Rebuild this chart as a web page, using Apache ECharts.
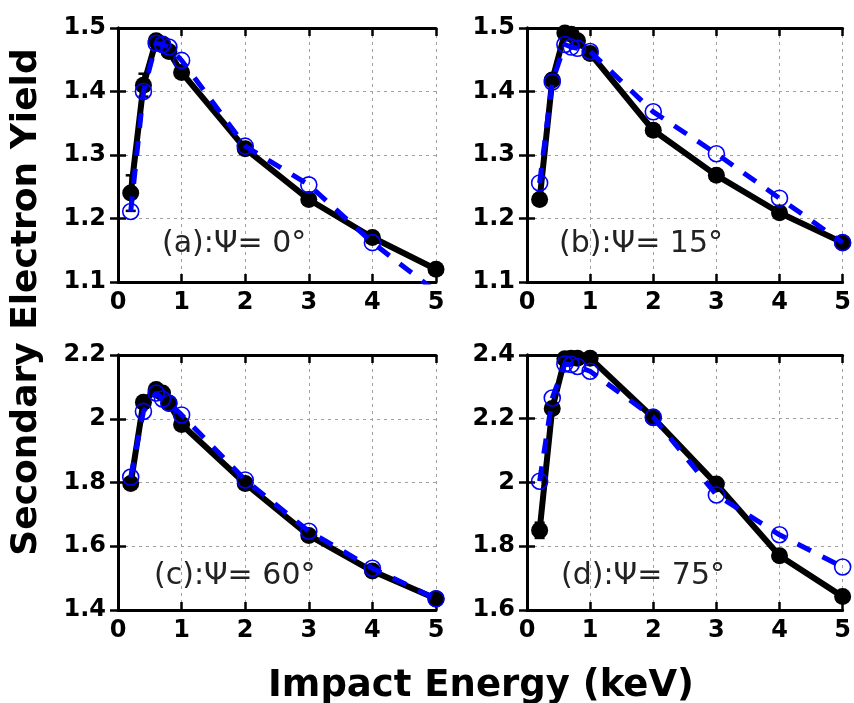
<!DOCTYPE html>
<html>
<head>
<meta charset="utf-8">
<script src="https://cdn.jsdelivr.net/npm/echarts@6/dist/echarts.min.js"></script>
<style>html,body{margin:0;padding:0;background:#fff;}#c{width:854px;height:703px;}</style>
</head>
<body>
<div id="c"></div>
<script>
// Impact energy (keV)
const energy = [0.2, 0.4, 0.6, 0.7, 0.8, 1, 2, 3, 4, 5];
const xTicks = [0, 1, 2, 3, 4, 5];

// Panel labels
const panelLabels = ['(a):\u03A8= 0\u00B0', '(b):\u03A8= 15\u00B0', '(c):\u03A8= 60\u00B0', '(d):\u03A8= 75\u00B0'];

// Black filled circles (solid line)
const blackA = [1.24, 1.41, 1.48, 1.475, 1.463, 1.43, 1.31, 1.23, 1.17, 1.12];
const blackB = [1.23, 1.418, 1.492, 1.49, 1.48, 1.46, 1.339, 1.268, 1.209, 1.162];
const blackC = [1.797, 2.052, 2.092, 2.081, 2.049, 1.982, 1.797, 1.634, 1.522, 1.435];
const blackD = [1.85, 2.232, 2.388, 2.39, 2.39, 2.39, 2.203, 1.995, 1.77, 1.642];

// Error bars on black points (half-height)
const errA = [0.028, 0.018, 0, 0, 0, 0, 0, 0, 0, 0];
const errB = [0, 0, 0, 0, 0, 0, 0, 0, 0, 0];
const errC = [0, 0, 0, 0, 0, 0, 0.012, 0, 0, 0];
const errD = [0.024, 0.012, 0, 0, 0, 0, 0, 0.014, 0, 0];

// Blue open circles (dashed line)
const blueA = [1.211, 1.40, 1.476, 1.474, 1.47, 1.449, 1.314, 1.253, 1.162, 1.085];
const blueB = [1.256, 1.415, 1.474, 1.47, 1.468, 1.463, 1.368, 1.302, 1.232, 1.162];
const blueC = [1.817, 2.023, 2.081, 2.062, 2.049, 2.012, 1.808, 1.647, 1.531, 1.435];
const blueD = [2.004, 2.265, 2.372, 2.37, 2.364, 2.349, 2.205, 1.961, 1.836, 1.735];

// Y axis ranges
const yMin = [1.1, 1.1, 1.4, 1.6];
const yMax = [1.5, 1.5, 2.2, 2.4];
const yStep = [0.1, 0.1, 0.2, 0.2];

const blacks = [blackA, blackB, blackC, blackD];
const errs = [errA, errB, errC, errD];
const blues = [blueA, blueB, blueC, blueD];

const FONT = 'DejaVu Sans';
const grids = [
  {left: 118, top: 28, width: 318, height: 254},
  {left: 527, top: 28, width: 318, height: 254},
  {left: 118, top: 355, width: 318, height: 255},
  {left: 527, top: 355, width: 318, height: 255}
];
const labelPos = [
  {left: 157, top: 224}, {left: 554, top: 224},
  {left: 149, top: 556}, {left: 556, top: 556}
];

const xAxes = [], yAxes = [], series = [], titles = [];
const axLine = {show: true, lineStyle: {color: '#000', width: 3}};
const axTick = {show: true, inside: true, length: 8, lineStyle: {color: '#000', width: 2.5}};
const split = {show: true, lineStyle: {color: '#a0a0a0', width: 1, type: [3, 4]}};

function errRender(params, api) {
  const x = api.value(0), y = api.value(1), e = api.value(2);
  if (!e) return null;
  const top = api.coord([x, y + e]);
  const bot = api.coord([x, y - e]);
  const w = 5;
  const st = {stroke: '#000', lineWidth: 2.5};
  return {type: 'group', children: [
    {type: 'line', shape: {x1: top[0], y1: top[1], x2: bot[0], y2: bot[1]}, style: st},
    {type: 'line', shape: {x1: top[0] - w, y1: top[1], x2: top[0] + w, y2: top[1]}, style: st},
    {type: 'line', shape: {x1: bot[0] - w, y1: bot[1], x2: bot[0] + w, y2: bot[1]}, style: st}
  ]};
}

for (let i = 0; i < 4; i++) {
  xAxes.push({type: 'value', gridIndex: i, position: 'bottom', min: xTicks[0], max: xTicks[xTicks.length - 1], interval: 1,
    axisLine: axLine, axisTick: axTick, splitLine: split,
    axisLabel: {fontFamily: FONT, fontWeight: 'bold', fontSize: 24, color: '#000', margin: 9}});
  xAxes.push({type: 'value', gridIndex: i, position: 'top', min: xTicks[0], max: xTicks[xTicks.length - 1], interval: 1,
    axisLine: axLine, axisTick: axTick, splitLine: {show: false}, axisLabel: {show: false}});
  yAxes.push({type: 'value', gridIndex: i, position: 'left', min: yMin[i], max: yMax[i], interval: yStep[i],
    axisLine: axLine, axisTick: axTick, splitLine: split,
    axisLabel: {fontFamily: FONT, fontWeight: 'bold', fontSize: 24, color: '#000', margin: 12,
      formatter: v => String(parseFloat(v.toFixed(2)))}});
  yAxes.push({type: 'value', gridIndex: i, position: 'right', min: yMin[i], max: yMax[i], interval: yStep[i],
    axisLine: axLine, axisTick: axTick, splitLine: {show: false}, axisLabel: {show: false}});

  series.push({type: 'custom', xAxisIndex: 2 * i, yAxisIndex: 2 * i,
    data: energy.map((e, k) => [e, blacks[i][k], errs[i][k]]),
    renderItem: errRender, z: 1, silent: true, clip: true, animation: false});
  series.push({type: 'line', xAxisIndex: 2 * i, yAxisIndex: 2 * i,
    data: energy.map((e, k) => [e, blacks[i][k]]),
    symbol: 'circle', symbolSize: 17, clip: true,
    lineStyle: {color: '#000', width: 6}, itemStyle: {color: '#000'}, z: 2, animation: false});
  series.push({type: 'line', xAxisIndex: 2 * i, yAxisIndex: 2 * i,
    data: energy.map((e, k) => [e, blues[i][k]]),
    symbol: 'circle', symbolSize: 16, clip: true,
    lineStyle: {color: '#0000ff', width: 5, type: [15, 13]},
    itemStyle: {color: 'rgba(0,0,0,0)', borderColor: '#0000ff', borderWidth: 1.6}, z: 3, animation: false});

  titles.push({text: panelLabels[i], left: labelPos[i].left, top: labelPos[i].top,
    textStyle: {fontFamily: FONT, fontWeight: 'normal', fontSize: 30, color: '#222'}});
}

const chart = echarts.init(document.getElementById('c'), null, {renderer: 'canvas'});
chart.setOption({
  backgroundColor: '#fff',
  animation: false,
  title: titles,
  grid: grids,
  xAxis: xAxes,
  yAxis: yAxes,
  series: series,
  graphic: [{
    type: 'text', x: 481, y: 686,
    style: {text: 'Impact Energy (keV)', fontFamily: FONT, fontWeight: 'bold', fontSize: 37, fill: '#000',
      align: 'center', verticalAlign: 'middle'}
  }, {
    type: 'text', x: 27, y: 302, rotation: Math.PI / 2,
    style: {text: 'Secondary Electron Yield', fontFamily: FONT, fontWeight: 'bold', fontSize: 36, fill: '#000',
      align: 'center', verticalAlign: 'middle'}
  }]
});
</script>
</body>
</html>
